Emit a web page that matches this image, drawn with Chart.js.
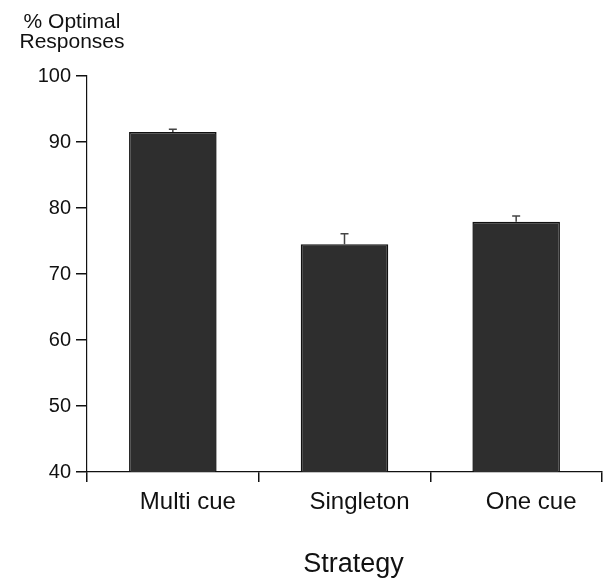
<!DOCTYPE html>
<html>
<head>
<meta charset="utf-8">
<script src="https://cdn.jsdelivr.net/npm/chart.js@4"></script>
<style>
  html, body { margin: 0; padding: 0; background: #fff; }
  #wrap { width: 616px; height: 579px; position: relative; }
</style>
</head>
<body>
<div id="wrap"><canvas id="chart" width="616" height="579"></canvas></div>
<script>
// Datos
const strategies = ["Multi cue", "Singleton", "One cue"]
const optimalPct = [91.5, 74.5, 77.9]
const stdErr = [0.45, 1.6, 0.9]
const yTicks = [40, 50, 60, 70, 80, 90, 100]

const FONT = "'Liberation Sans', Arial, Helvetica, sans-serif"

// barras de error + títulos (eje y arriba, "Strategy" abajo)
const extras = {
  id: "extras",
  afterDatasetsDraw(chart) {
    const { ctx } = chart
    const meta = chart.getDatasetMeta(0)
    const y = chart.scales.y
    ctx.save()
    ctx.strokeStyle = "#444"
    ctx.lineWidth = 1.5
    meta.data.forEach((bar, i) => {
      const top = y.getPixelForValue(optimalPct[i] + stdErr[i])
      ctx.beginPath()
      ctx.moveTo(bar.x, bar.y)
      ctx.lineTo(bar.x, top)
      ctx.moveTo(bar.x - 4, top)
      ctx.lineTo(bar.x + 4, top)
      ctx.stroke()
    })
    ctx.restore()
  },
  afterDraw(chart) {
    const { ctx, chartArea } = chart
    ctx.save()
    ctx.fillStyle = "#111"
    ctx.textAlign = "center"
    ctx.textBaseline = "alphabetic"
    ctx.font = "21px " + FONT
    ctx.fillText("% Optimal", 72, 28)
    ctx.fillText("Responses", 72, 48)
    ctx.font = "27px " + FONT
    ctx.fillText("Strategy", (chartArea.left + chartArea.right) / 2 + 9, 572)
    ctx.restore()
  }
}

new Chart(document.getElementById("chart"), {
  type: "bar",
  data: {
    labels: strategies,
    datasets: [{
      data: optimalPct,
      backgroundColor: "#2e2e2e",
      borderColor: "#111",
      borderWidth: 1.5,
      barPercentage: 0.51,
      categoryPercentage: 1.0
    }]
  },
  options: {
    responsive: false,
    animation: false,
    devicePixelRatio: 1,
    layout: { padding: { top: 76, right: 14, left: 0, bottom: 0 } },
    plugins: { legend: { display: false }, tooltip: { enabled: false } },
    scales: {
      x: {
        offset: true,
        afterFit: (s) => { s.height = 107 },
        border: { display: true, color: "#111", width: 1.2 },
        grid: { offset: true, drawOnChartArea: false, drawTicks: true, tickLength: 10, color: "#111", lineWidth: 1.5 },
        ticks: { color: "#111", font: { family: FONT, size: 24 }, padding: 6, labelOffset: 15 }
      },
      y: {
        min: 40,
        max: 100,
        afterFit: (s) => { s.width = 87 },
        afterBuildTicks: (s) => { s.ticks = yTicks.map((v) => ({ value: v })) },
        border: { display: true, color: "#111", width: 1.2 },
        grid: { drawOnChartArea: false, drawTicks: true, tickLength: 11, color: "#111", lineWidth: 1.5 },
        ticks: { color: "#111", font: { family: FONT, size: 20 }, padding: 5 }
      }
    }
  },
  plugins: [extras]
})
</script>
</body>
</html>
